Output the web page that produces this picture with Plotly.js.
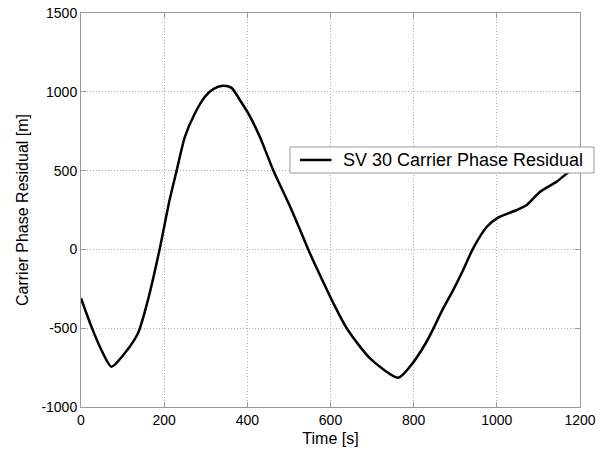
<!DOCTYPE html>
<html>
<head>
<meta charset="utf-8">
<script src="https://cdn.plot.ly/plotly-3.0.1.min.js"></script>
<style>html,body{margin:0;padding:0;background:#fff;}#chart{width:600px;height:450px;}</style>
</head>
<body>
<div id="chart"></div>
<script>
const timeS = [0, 25, 49, 73, 105, 137, 161, 189, 213, 230, 250, 274, 298, 320, 342, 362, 382, 402, 430, 462, 503, 527, 547, 567, 607, 639, 695, 763, 791, 831, 871, 895, 919, 943, 976, 1000, 1048, 1072, 1104, 1144, 1170, 1190];
const residualM = [-310, -490, -638, -744, -659, -532, -321, 0, 313, 500, 715, 864, 969, 1020, 1038, 1025, 948, 864, 715, 504, 271, 123, -4, -120, -342, -500, -691, -814, -744, -586, -374, -258, -131, 7, 144, 197, 250, 282, 366, 430, 485, 520];
const seriesName = 'SV 30 Carrier Phase Residual';
const xTicks = [0, 200, 400, 600, 800, 1000, 1200];
const yTicks = [-1000, -500, 0, 500, 1000, 1500];

const FONT = 'Liberation Sans, Arial, sans-serif';
const axisCommon = {
  showline: true, linecolor: '#9a9a9a', linewidth: 1, mirror: 'ticks',
  ticks: 'inside', ticklen: 5, tickcolor: '#9a9a9a',
  showgrid: true, gridcolor: '#b0b0b0', griddash: '1px,2px', gridwidth: 1,
  zeroline: false,
  tickfont: {family: FONT, size: 14, color: '#000'}
};

// Legend box geometry in paper coordinates (drawn as shapes + annotation text)
const lgX0 = 0.4188, lgX1 = 1.028, lgY0 = 0.5939, lgY1 = 0.6599, lgYc = 0.627;

Plotly.newPlot('chart', [{
  x: timeS, y: residualM, type: 'scatter', mode: 'lines', name: seriesName,
  line: {color: '#000', width: 2.5, shape: 'spline', smoothing: 0.7}
}], {
  width: 600, height: 450,
  margin: {l: 81, r: 20, t: 13, b: 43},
  paper_bgcolor: '#fff', plot_bgcolor: '#fff',
  showlegend: false,
  xaxis: Object.assign({}, axisCommon, {
    range: [0, 1200], tickvals: xTicks, ticktext: xTicks.map(String),
    title: {text: 'Time [s]', font: {family: FONT, size: 16, color: '#000'}, standoff: 6}
  }),
  yaxis: Object.assign({}, axisCommon, {
    range: [-1000, 1500], tickvals: yTicks, ticktext: yTicks.map(String),
    title: {text: 'Carrier Phase Residual [m]', font: {family: FONT, size: 16, color: '#000'}, standoff: 8}
  }),
  shapes: [
    {type: 'rect', xref: 'paper', yref: 'paper', x0: lgX0, x1: lgX1, y0: lgY0, y1: lgY1,
     fillcolor: '#fff', line: {color: '#9a9a9a', width: 1}, layer: 'above'},
    {type: 'line', xref: 'paper', yref: 'paper', x0: 0.4389, x1: 0.502, y0: lgYc, y1: lgYc,
     line: {color: '#000', width: 2.5}, layer: 'above'}
  ],
  annotations: [
    {xref: 'paper', yref: 'paper', x: 0.521, y: lgYc, xanchor: 'left', yanchor: 'middle',
     text: seriesName, showarrow: false, font: {family: FONT, size: 18, color: '#000'}}
  ]
}, {displayModeBar: false, staticPlot: true});
</script>
</body>
</html>
